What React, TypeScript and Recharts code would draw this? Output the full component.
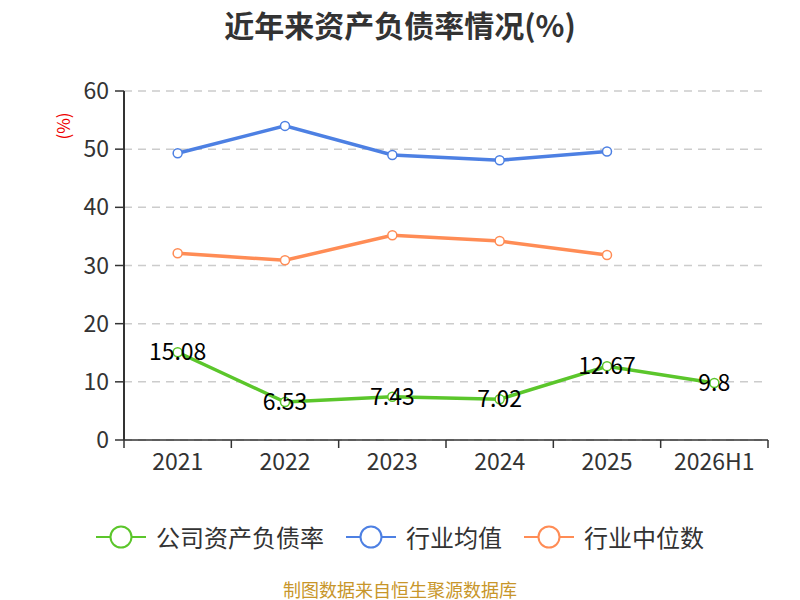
import { CartesianGrid, Label, LabelList, Line, LineChart, XAxis, YAxis } from "recharts";

const years = ["2021", "2022", "2023", "2024", "2025", "2026H1"];
const companyRate = [15.08, 6.53, 7.43, 7.02, 12.67, 9.8];
const industryAvg = [49.3, 54.0, 49.0, 48.1, 49.6, null];
const industryMedian = [32.1, 30.9, 35.2, 34.2, 31.8, null];
const yTicks = [0, 10, 20, 30, 40, 50, 60];

const data = years.map((year, i) => ({
  year,
  company: companyRate[i],
  avg: industryAvg[i],
  median: industryMedian[i],
}));

const W = 800;
const H = 600;
const MARGIN = { top: 91, right: 32, bottom: 120, left: 0 };
const Y_WIDTH = 124;
const PLOT_W = W - MARGIN.left - MARGIN.right - Y_WIDTH;
const FONT = "'Noto Sans CJK SC', 'Noto Sans', sans-serif";
const AXIS = "#333";

const GREEN = "#5bc62b";
const BLUE = "#4d80e3";
const ORANGE = "#ff8c55";

const legendItems = [
  { name: "公司资产负债率", color: GREEN },
  { name: "行业均值", color: BLUE },
  { name: "行业中位数", color: ORANGE },
];

function XTick(props: any) {
  const { x, y, payload, index } = props;
  const half = PLOT_W / years.length / 2;
  const top = y - 14;
  return (
    <g>
      <line x1={x - half} x2={x - half} y1={top} y2={top + 8} stroke={AXIS} strokeWidth={1.5} />
      {index === years.length - 1 && (
        <line x1={x + half} x2={x + half} y1={top} y2={top + 8} stroke={AXIS} strokeWidth={1.5} />
      )}
      <text x={x} y={y} dy="0.71em" textAnchor="middle" fill={AXIS} fontSize={23} fontFamily={FONT}>
        {payload.value}
      </text>
    </g>
  );
}

function ChartLegend() {
  return (
    <div
      style={{
        position: "absolute",
        top: 523,
        left: 0,
        width: W,
        display: "flex",
        justifyContent: "center",
        gap: 22,
        fontFamily: FONT,
      }}
    >
      {legendItems.map((item) => (
        <div key={item.name} style={{ display: "flex", alignItems: "center" }}>
          <svg width={50} height={26} style={{ marginRight: 10 }}>
            <line x1={0} x2={50} y1={13} y2={13} stroke={item.color} strokeWidth={2} />
            <circle cx={25} cy={13} r={10.5} fill="#fff" stroke={item.color} strokeWidth={2} />
          </svg>
          <span style={{ fontSize: 24, color: "#333", lineHeight: "28px" }}>{item.name}</span>
        </div>
      ))}
    </div>
  );
}

export default function App() {
  return (
    <div style={{ position: "absolute", left: 0, top: 0, width: W, height: H, background: "#fff" }}>
      <div
        style={{
          position: "absolute",
          top: 2,
          width: W,
          textAlign: "center",
          fontFamily: FONT,
          fontSize: 30,
          fontWeight: "bold",
          color: "#333",
        }}
      >
        近年来资产负债率情况(%)
      </div>
      <LineChart width={W} height={H} data={data} margin={MARGIN}>
        <CartesianGrid vertical={false} stroke="#ccc" strokeDasharray="8 6" strokeWidth={1.5} />
        <XAxis
          dataKey="year"
          scale="band"
          height={40}
          axisLine={{ stroke: AXIS, strokeWidth: 1.5 }}
          tickLine={false}
          tickSize={8}
          tickMargin={6}
          tick={<XTick />}
          interval={0}
        />
        <YAxis
          width={Y_WIDTH}
          domain={[0, 60]}
          ticks={yTicks}
          interval={0}
          axisLine={{ stroke: AXIS, strokeWidth: 2 }}
          tickLine={{ stroke: AXIS, strokeWidth: 1.5 }}
          tickSize={9}
          tickMargin={6}
          tick={{ fill: AXIS, fontSize: 23, fontFamily: FONT }}
        >
          <Label
            content={(p: any) => {
              const vb = p.viewBox;
              const cx = vb.x + 62;
              const cy = vb.y + 35;
              return (
                <text
                  x={cx}
                  y={cy}
                  transform={`rotate(-90 ${cx} ${cy})`}
                  textAnchor="middle"
                  dominantBaseline="central"
                  fill="#e00"
                  fontSize={17}
                  fontFamily={FONT}
                >
                  (%)
                </text>
              );
            }}
          />
        </YAxis>
        <Line
          dataKey="company"
          name="公司资产负债率"
          stroke={GREEN}
          strokeWidth={3.5}
          dot={{ r: 4.5, fill: "#fff", stroke: GREEN, strokeWidth: 1.5 }}
          isAnimationActive={false}
        >
          <LabelList dataKey="company" position="center" fill="#000" fontSize={23} fontFamily={FONT} />
        </Line>
        <Line
          dataKey="avg"
          name="行业均值"
          stroke={BLUE}
          strokeWidth={3.5}
          dot={{ r: 4.5, fill: "#fff", stroke: BLUE, strokeWidth: 1.5 }}
          isAnimationActive={false}
        />
        <Line
          dataKey="median"
          name="行业中位数"
          stroke={ORANGE}
          strokeWidth={3.5}
          dot={{ r: 4.5, fill: "#fff", stroke: ORANGE, strokeWidth: 1.5 }}
          isAnimationActive={false}
        />
      </LineChart>
      <ChartLegend />
      <div
        style={{
          position: "absolute",
          top: 579,
          width: W,
          textAlign: "center",
          fontFamily: FONT,
          fontSize: 18,
          lineHeight: "20px",
          color: "#c8962a",
        }}
      >
        制图数据来自恒生聚源数据库
      </div>
    </div>
  );
}
